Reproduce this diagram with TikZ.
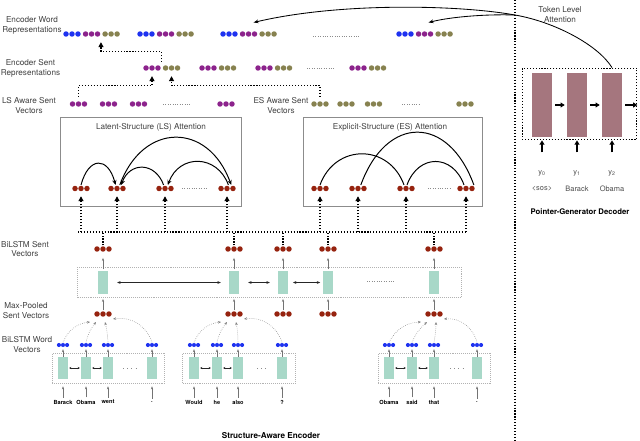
\documentclass[tikz,border=0pt]{standalone}
\usepackage{fontspec}
\setmainfont{TeX Gyre Heros}
\usetikzlibrary{arrows.meta,positioning}

\definecolor{wordBlue}{RGB}{30,50,240}
\definecolor{sentPurple}{RGB}{140,35,140}
\definecolor{sentOlive}{RGB}{135,130,80}
\definecolor{vecRed}{RGB}{150,35,15}
\definecolor{lstmTeal}{RGB}{168,216,200}
\definecolor{decMauve}{RGB}{165,118,126}

\begin{document}
\begin{tikzpicture}
[x=0.025cm, y=-0.025cm,
  labelText/.style={align=center, font=\fontsize{5.8}{7}\selectfont, text=black!75, inner sep=0pt},%
  tokenText/.style={font=\fontsize{4}{5}\selectfont\bfseries, inner sep=0pt},%
  decText/.style={font=\fontsize{5.3}{6}\selectfont, text=black!70, inner sep=0pt},%
  titleText/.style={font=\fontsize{5.8}{7}\selectfont\bfseries, inner sep=0pt},%
  triple/.style={minimum width=13pt, minimum height=4.6pt, inner sep=0pt,
    path picture={\foreach \dx in {-4.25,0,4.25}
      \fill[#1] ([xshift=\dx pt]path picture bounding box.center) circle (1.95pt);}},%
  smallTriple/.style={minimum width=9pt, minimum height=3.6pt, inner sep=0pt,
    path picture={\foreach \dx in {-2.9,0,2.9}
      \fill[#1] ([xshift=\dx pt]path picture bounding box.center) circle (1.45pt);}},%
  sentCell/.style={fill=lstmTeal, minimum width=7.8pt, minimum height=16.3pt, inner sep=0pt},%
  wordCell/.style={fill=lstmTeal, minimum width=7.1pt, minimum height=15.6pt, inner sep=0pt},%
  decCell/.style={fill=decMauve, minimum width=14.2pt, minimum height=45.4pt, inner sep=0pt},%
  lstmBox/.style={draw=black!30, densely dotted, inner sep=0pt},%
  attBox/.style={draw=black!45, line width=0.8pt, inner sep=0pt},%
  decBox/.style={draw, line width=0.8pt, dash pattern=on 0.8pt off 1.3pt, inner sep=0pt},%
  busLine/.style={line width=0.8pt, dash pattern=on 0.8pt off 1.3pt},%
  upArrow/.style={busLine, -{Triangle[length=3.5pt,width=3.5pt]}},%
  gapDots/.style={black!45, line width=0.5pt, dash pattern=on 0.5pt off 1.2pt},%
  cellArrow/.style={black!55, line width=0.35pt, -{Stealth[length=2.2pt,width=1.6pt]}},%
  lstmArrow/.style={black!85, line width=0.45pt, {Stealth[length=2.4pt,width=2pt]}-{Stealth[length=2.4pt,width=2pt]}},%
  wordArrow/.style={black!85, line width=0.35pt, {Stealth[length=1.5pt,width=1.4pt]}-{Stealth[length=1.5pt,width=1.4pt]}},%
  poolArrow/.style={black!50, densely dotted, line width=0.4pt, -{Stealth[length=2.2pt,width=1.8pt]}},%
  arcArrow/.style={line width=0.7pt, -{Stealth[length=3.5pt,width=3pt]}},%
  arcLine/.style={line width=0.7pt},%
  attCurve/.style={line width=0.6pt, -{Stealth[length=3.5pt,width=2.6pt]}},%
  decArrow/.style={line width=1pt, -{Triangle[length=3pt,width=3.5pt]}}]
\useasboundingbox (0,0) rectangle (640,441);

%% row labels
\node[labelText] (lblWordRep) at (32,25) {Encoder Word\\Representations};
\node[labelText] (lblSentRep) at (30.5,68.5) {Encoder Sent\\Representations};
\node[labelText] (lblLS) at (29,105.5) {LS Aware Sent\\Vectors};
\node[labelText] (lblES) at (281,105.5) {ES Aware Sent\\Vectors};
\node[labelText] (lblBiSent) at (25,249) {BiLSTM Sent\\Vectors};
\node[labelText] (lblMaxPool) at (26,311) {Max-Pooled\\Sent Vectors};
\node[labelText] (lblBiWord) at (27,344.5) {BiLSTM Word\\Vectors};

%% encoder word and sent representations
\foreach \grp/\x in {1/72, 2/146, 3/229, 4/405}
{
  \node[triple=wordBlue] (wr\grp a) at (\x,34) {};
  \node[triple=sentPurple, right=0.5pt of wr\grp a] (wr\grp b) {};
  \node[triple=sentOlive, right=0.5pt of wr\grp b] (wr\grp c) {};
}
\foreach \grp/\x in {1/152, 2/208, 3/264, 4/358}
{
  \node[triple=sentPurple] (sr\grp a) at (\x,68) {};
  \node[triple=sentOlive, right=0.5pt of sr\grp a] (sr\grp b) {};
}
\draw[gapDots] (313,36) -- (360,36);
\draw[gapDots] (307,68) -- (335,68);

%% structure aware sent vectors
\foreach \name/\x/\col in {ls1/78.5/sentPurple, ls2/108.5/sentPurple, ls3/138.5/sentPurple,
  ls4/226/sentPurple, es1/320/sentOlive, es2/346/sentOlive, es3/373.5/sentOlive, es4/465/sentOlive}
  \node[triple=\col] (\name) at (\x,104) {};
\draw[gapDots] (163,104) -- (191,104);
\draw[gapDots] (402,104) -- (420,104);

\draw[upArrow, shorten <=2.6pt, shorten >=3.3pt] (ls1.north) -- ++(0,-15) -| (sr1a.south);
\draw[upArrow, shorten <=2.6pt, shorten >=3.3pt] (es1.north) -- ++(0,-15) -| (sr1b.south);
\draw[upArrow, shorten <=1.8pt, shorten >=3.3pt] (sr1a.north east) -- ++(0,-13) -| (wr1b.south east);

%% attention boxes
\node[attBox, minimum width=129pt, minimum height=63.8pt] (lsBox) at (151,162) {};
\node[attBox, minimum width=127.6pt, minimum height=63.8pt] (esBox) at (393,162) {};
\node[labelText] (lsTitle) at (151,127) {Latent-Structure (LS) Attention};
\node[labelText] (esTitle) at (390,127) {Explicit-Structure (ES) Attention};

\foreach \name/\x in {la1/81, la2/117, la3/165, la4/227, ea1/320, ea2/358, ea3/406, ea4/466}
  \node[triple=vecRed] (\name) at (\x,188.5) {};
\draw[gapDots] (182,188.5) -- (208,188.5);
\draw[gapDots] (428,188.5) -- (450,188.5);

\draw[arcArrow] (la1.north) to[out=75,in=105,looseness=2.2] ([xshift=-1pt]la2.north);
\draw[arcArrow] ([xshift=-1pt]la3.north) to[out=110,in=70,looseness=1.5] ([xshift=3pt]la2.north);
\draw[arcArrow] ([xshift=1pt]la4.north) to[out=110,in=70,looseness=1.4] ([xshift=2pt]la3.north);
\draw[arcArrow] ([xshift=2pt]la2.north) to[out=70,in=110,looseness=1.55] ([xshift=3pt]la4.north);

\draw[arcLine] (ea1.north) to[out=70,in=110,looseness=1.35] ([xshift=-1.4pt]ea3.north);
\draw[arcLine] ([xshift=2pt]ea2.north) to[out=70,in=110,looseness=1.7] ([xshift=5.6pt]ea4.north);
\draw[arcLine] ([xshift=0.7pt]ea3.north) to[out=70,in=110,looseness=1.5] ([xshift=-1.4pt]ea4.north);

%% bus from BiLSTM sent vectors to both attentions
\coordinate (busL) at (78,232);
\coordinate (busR) at (467,232);
\draw[busLine] (busL) -- (busR);
\foreach \name in {la1,la2,la3,la4,ea1,ea2,ea3,ea4}
  \draw[upArrow, shorten >=3pt] (\name |- busL) -- (\name.south);

%% sentence level BiLSTM
\node[lstmBox, minimum width=272.8pt, minimum height=21.3pt] (sentBox) at (269.5,282) {};
\foreach \i/\x in {1/103, 2/234, 3/283, 4/328, 5/434}
{
  \node[triple=vecRed] (sv\i) at (\x,249) {};
  \node[sentCell] (sc\i) at (\x,282.5) {};
  \node[triple=vecRed] (mp\i) at (\x,314) {};
  \draw[cellArrow, shorten >=3.8pt, shorten <=1pt] (sc\i) -- (sv\i);
  \draw[cellArrow, shorten >=3.3pt] (mp\i) -- (sc\i);
  \draw[busLine] (sv\i.north) -- (sv\i |- busL);
}
\draw[lstmArrow, shorten <=6pt, shorten >=5.3pt] (sc1) -- (sc2);
\draw[lstmArrow, shorten <=6pt, shorten >=5.3pt] (sc2) -- (sc3);
\draw[lstmArrow, shorten <=3pt, shorten >=1.5pt] (sc3) -- (sc4);
\draw[gapDots] (367,281) -- (394,281);

%% word level BiLSTMs
\foreach \s/\x in {1/108.5, 2/239, 3/434.5}
  \node[lstmBox, minimum width=80pt, minimum height=21.3pt] (wordBox\s) at (\x,368) {};
\foreach \s/\i/\x/\tok in {1/1/63/Barack, 1/2/86/Obama, 1/3/108/went, 1/4/152/.,
  2/1/194/Would, 2/2/217/he, 2/3/238/also, 2/4/282/?,
  3/1/389/Obama, 3/2/412/said, 3/3/434/that, 3/4/477/.}
{
  \node[smallTriple=wordBlue] (wv\s\i) at (\x,345) {};
  \node[wordCell] (wc\s\i) at (\x,368) {};
  \node[tokenText] (tk\s\i) at (\x,402) {\tok};
  \draw[cellArrow, shorten >=1pt] (wc\s\i) -- (wv\s\i);
  \draw[cellArrow, shorten <=1.5pt, shorten >=5pt] (tk\s\i) -- (wc\s\i);
}
\foreach \s/\m in {1/1, 2/2, 3/5}
{
  \draw[wordArrow, shorten <=0.6pt, shorten >=0.6pt] (wc\s1) -- (wc\s2);
  \draw[wordArrow, shorten <=0.6pt, shorten >=0.6pt] (wc\s2) -- (wc\s3);
  \draw[poolArrow] (wv\s1.north) to[bend left=30] ([shift={(-13,8)}]mp\m.center);
  \draw[poolArrow] (wv\s2.north) to[bend left=12] ([shift={(-7,8)}]mp\m.center);
  \draw[poolArrow] (wv\s3.north) to[bend right=5] ([shift={(2,8)}]mp\m.center);
  \draw[poolArrow] (wv\s4.north) to[bend right=40] ([shift={(10,5)}]mp\m.center);
}
\draw[gapDots, dash pattern=on 0.6pt off 2.4pt] (123,368) -- (137,368);
\draw[gapDots, dash pattern=on 0.6pt off 2.4pt] (257,368) -- (269,368);
\draw[gapDots, dash pattern=on 0.6pt off 2.4pt] (450,368) -- (464,368);

\node[titleText] (encTitle) at (271,436) {Structure-Aware Encoder};

%% decoder
\coordinate (sepTop) at (515,0);
\coordinate (sepBot) at (515,441);
\draw[busLine] (sepTop) -- (sepBot);

\node[decBox, minimum width=81.5pt, minimum height=51pt] (dbox) at (579.5,104) {};
\foreach \i/\x/\lab/\word in {1/542/0/<sos>, 2/577/1/Barack, 3/612/2/Obama}
{
  \node[decCell] (dc\i) at (\x,105) {};
  \node[decText] (dy\i) at (\x,173) {y\textsubscript{\lab}};
  \node[decText] (dw\i) at (\x,189) {\word};
  \draw[decArrow] ([yshift=-8.5pt]dc\i |- dbox.south) -- (dc\i |- dbox.south);
}
\draw[decArrow, shorten <=2pt, shorten >=1.4pt] (dc1) -- (dc2);
\draw[decArrow, shorten <=2pt, shorten >=1.4pt] (dc2) -- (dc3);
\draw[decArrow, shorten <=2pt] (dc3) -- (dc3 -| dbox.east);
\node[titleText, font=\fontsize{5.5}{6.5}\selectfont\bfseries] (decTitle) at (580,212) {Pointer-Generator Decoder};

%% token level attention
\node[labelText] (tokAtt) at (560,15) {Token Level\\Attention};
\coordinate (attSplit) at (515,15);
\draw[attCurve] (dc3 |- dbox.north) .. controls (598,45) and (555,22) .. (attSplit)
  .. controls (460,5) and (340,2) .. ([shift={(5,-8)}]wr3b.north);
\draw[attCurve] (attSplit) .. controls (485,14) and (450,17) .. ([shift={(4,-8)}]wr4b.north);
\end{tikzpicture}
\end{document}
